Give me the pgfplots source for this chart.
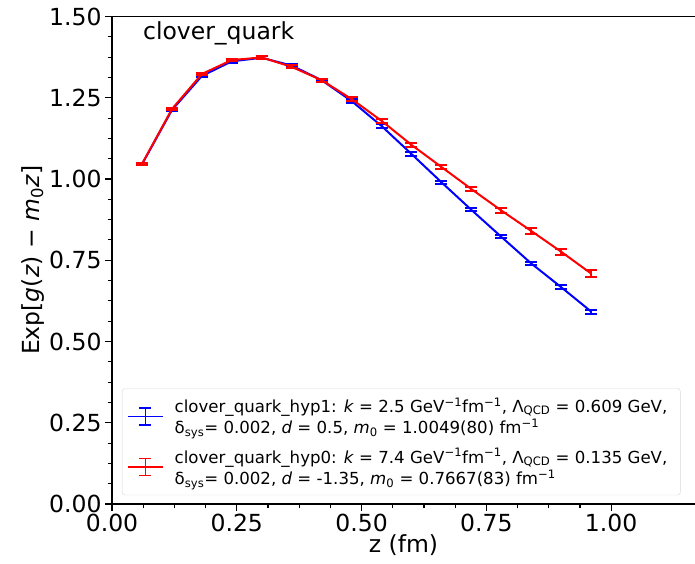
\documentclass[border=0pt]{standalone}
\usepackage{pgfplots}
\pgfplotsset{compat=1.18}
\usepackage{fontspec}
\setmainfont{DejaVu Sans}
\definecolor{mplblue}{rgb}{0,0,1}
\definecolor{mplred}{rgb}{1,0,0}
\pgfplotsset{
  ebicon/.style={legend image code/.code={
    \draw[##1,line width=1.6pt] (0pt,0pt) -- (35pt,0pt);
    \draw[##1,line width=1.6pt] (17.5pt,-8.5pt) -- (17.5pt,8.5pt);
    \draw[##1,line width=1.6pt] (11.5pt,-8.5pt) -- (23.5pt,-8.5pt);
    \draw[##1,line width=1.6pt] (11.5pt,8.5pt) -- (23.5pt,8.5pt);
  }}
}
\begin{document}
\begin{tikzpicture}
\begin{axis}[
  at={(0pt,0pt)}, anchor=south west,
  scale only axis, width=583pt, height=487.5pt,
  xmin=0, xmax=1.168, ymin=0, ymax=1.5,
  axis x line*=box, axis y line*=left,
  axis line style={line width=1.1pt, black},
  xtick={0,0.25,0.5,0.75,1.0},
  ytick={0,0.25,0.5,0.75,1.0,1.25,1.5},
  minor x tick num=3, minor y tick num=3,
  xtick pos=bottom, ytick pos=left,
  tick align=outside,
  major tick length=7pt, minor tick length=4pt,
  tick style={black, line width=1.1pt},
  ticklabel style={font=\fontsize{23.5}{27}\selectfont},
  /pgf/number format/assume math mode=true,
  xticklabel={\pgfmathprintnumber[fixed,fixed zerofill,precision=2]{\tick}},
  yticklabel={\pgfmathprintnumber[fixed,fixed zerofill,precision=2]{\tick}},
  xlabel={z (fm)},
  ylabel={Exp[\textit{g}(\textit{z}) − \textit{m}\textsubscript{0}\textit{z}]},
  label style={font=\fontsize{23.5}{27}\selectfont},
  xlabel style={yshift=5pt},
  ylabel style={yshift=-2pt},
  legend style={at={(0.017,0.018)}, anchor=south west,
    font=\fontsize{16.6}{21.5}\selectfont, draw=black!15, fill=white,
    rounded corners=3pt, cells={align=left, anchor=west},
    row sep=9pt, inner xsep=5pt, inner ysep=7pt,
    /tikz/every odd column/.append style={column sep=9pt}},
  legend cell align=left,
]
\addplot[mplblue, line width=2pt, ebicon,
  error bars/.cd, y dir=both, y explicit,
  error bar style={line width=2pt},
  error mark options={rotate=90, mark size=6pt, line width=2pt}]
  table[x=x, y=y, y error=e] {
x y e
0.06 1.045 0.003
0.12 1.212 0.004
0.18 1.317 0.004
0.24 1.362 0.004
0.30 1.373 0.004
0.36 1.349 0.004
0.42 1.304 0.004
0.48 1.240 0.005
0.54 1.163 0.005
0.60 1.077 0.005
0.66 0.990 0.005
0.72 0.905 0.005
0.78 0.822 0.005
0.84 0.740 0.005
0.90 0.667 0.006
0.96 0.592 0.006
};
\addlegendentry{clover\_quark\_hyp1: \textit{k} = 2.5 GeV\textsuperscript{−1}fm\textsuperscript{−1}, Λ\textsubscript{QCD} = 0.609 GeV,\hspace*{6pt}\\δ\textsubscript{sys}= 0.002, \textit{d} = 0.5, \textit{m}\textsubscript{0} = 1.0049(80) fm\textsuperscript{−1}}
\addplot[mplred, line width=2pt, ebicon,
  error bars/.cd, y dir=both, y explicit,
  error bar style={line width=2pt},
  error mark options={rotate=90, mark size=6pt, line width=2pt}]
  table[x=x, y=y, y error=e] {
x y e
0.06 1.046 0.003
0.12 1.215 0.004
0.18 1.323 0.004
0.24 1.366 0.004
0.30 1.374 0.004
0.36 1.345 0.005
0.42 1.304 0.005
0.48 1.246 0.006
0.54 1.179 0.006
0.60 1.105 0.006
0.66 1.037 0.006
0.72 0.969 0.007
0.78 0.903 0.007
0.84 0.840 0.008
0.90 0.776 0.009
0.96 0.709 0.012
};
\addlegendentry{clover\_quark\_hyp0: \textit{k} = 7.4 GeV\textsuperscript{−1}fm\textsuperscript{−1}, Λ\textsubscript{QCD} = 0.135 GeV,\hspace*{6pt}\\δ\textsubscript{sys}= 0.002, \textit{d} = -1.35, \textit{m}\textsubscript{0} = 0.7667(83) fm\textsuperscript{−1}}
\node[anchor=north west, inner sep=0pt, font=\fontsize{23.5}{27}\selectfont] at (axis description cs:0.053,0.99) {clover\_quark};
\end{axis}
\pgfresetboundingbox
\path[use as bounding box] (-112pt,-60pt) rectangle (583pt,504pt);
\end{tikzpicture}
\end{document}
